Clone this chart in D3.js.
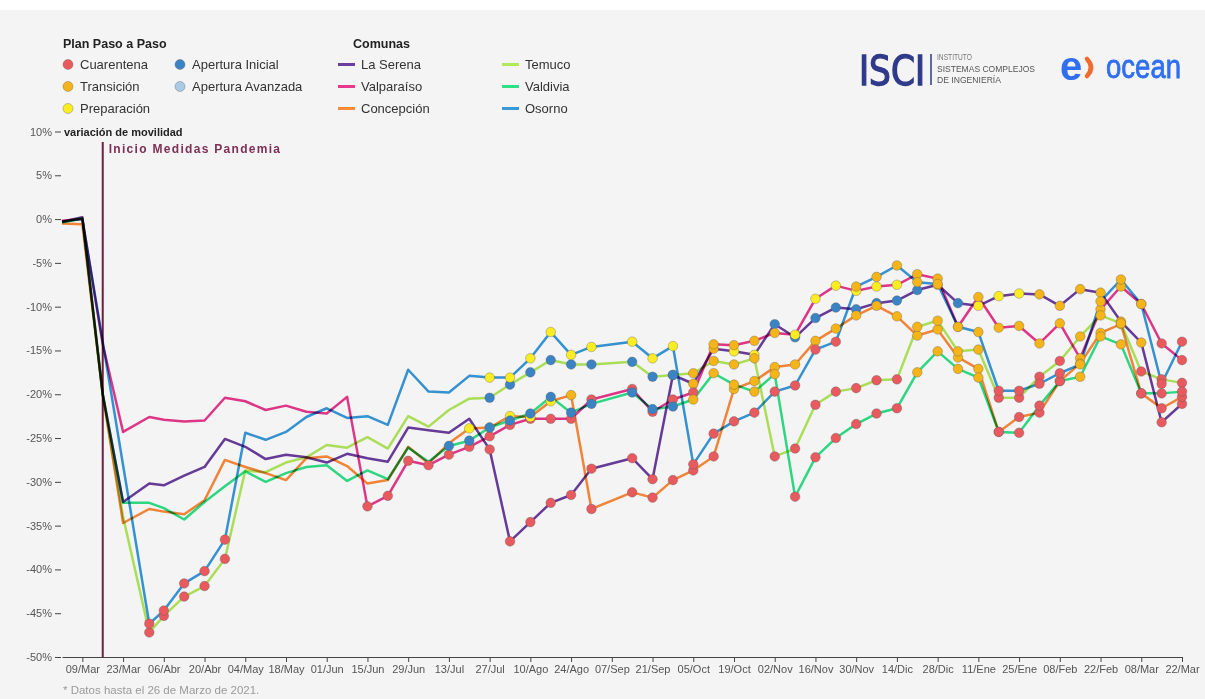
<!DOCTYPE html>
<html>
<head>
<meta charset="utf-8">
<script src="https://cdn.jsdelivr.net/npm/d3@7"></script>
<style>
  body { margin: 0; background: #fff; font-family: "Liberation Sans", Arial, sans-serif; }
  svg { display: block; }
</style>
</head>
<body>
<svg id="chart" width="1205" height="699"></svg>
<script>
// fechas semanales (falta la semana del 07/Sep)
const fechas = [
  '2020-03-02','2020-03-09','2020-03-16','2020-03-23','2020-04-01','2020-04-06','2020-04-13','2020-04-20','2020-04-27','2020-05-04',
  '2020-05-11','2020-05-18','2020-05-25','2020-06-01','2020-06-08','2020-06-15','2020-06-22','2020-06-29','2020-07-06','2020-07-13',
  '2020-07-20','2020-07-27','2020-08-03','2020-08-10','2020-08-17','2020-08-24','2020-08-31','2020-09-14','2020-09-21','2020-09-28',
  '2020-10-05','2020-10-12','2020-10-19','2020-10-26','2020-11-02','2020-11-09','2020-11-16','2020-11-23','2020-11-30','2020-12-07',
  '2020-12-14','2020-12-21','2020-12-28','2021-01-04','2021-01-11','2021-01-18','2021-01-25','2021-02-01','2021-02-08','2021-02-15',
  '2021-02-22','2021-03-01','2021-03-08','2021-03-15','2021-03-22'
];

// variación de movilidad (%)
const laSerena = [
  -0.3, 0.2, -20.0, -32.3, -30.2, -30.4, -29.3, -28.3, -25.1, -26.0,
  -27.4, -26.9, -27.2, -27.8, -26.8, -27.3, -27.7, -23.8, -24.1, -24.4,
  -22.8, -26.3, -36.8, -34.6, -32.4, -31.5, -28.5, -27.3, -29.7, -17.8,
  -18.8, -14.8, -15.1, -15.5, -12.0, -13.5, -11.3, -10.1, -10.3, -9.6,
  -9.3, -8.1, -7.5, -9.6, -9.9, -8.8, -8.5, -8.6, -9.9, -8.0,
  -8.4, -11.7, -14.1, -23.2, -21.1
];
const valparaiso = [
  -0.2, 0.0, -14.3, -24.3, -22.6, -22.9, -23.1, -23.0, -20.4, -20.8,
  -21.8, -21.3, -22.0, -22.2, -20.3, -32.8, -31.6, -27.6, -28.1, -26.9,
  -26.0, -24.8, -23.5, -22.8, -22.8, -22.8, -20.6, -19.4, -22.0, -20.6,
  -19.8, -14.3, -14.4, -13.9, -13.0, -13.2, -9.1, -7.6, -8.2, -7.7,
  -7.5, -6.3, -6.8, -12.3, -8.9, -12.4, -12.2, -14.2, -11.9, -15.9,
  -10.3, -7.7, -9.7, -14.2, -16.1
];
const concepcion = [
  -0.5, -0.6, -20.0, -34.7, -33.1, -33.4, -33.7, -32.1, -27.5, -28.3,
  -29.0, -29.8, -27.3, -27.1, -28.2, -30.2, -29.8, -26.0, -27.9, -25.6,
  -23.9, -23.8, -22.5, -22.6, -20.8, -20.1, -33.1, -31.2, -31.8, -29.8,
  -28.7, -27.1, -19.4, -18.5, -16.9, -16.6, -13.9, -12.5, -11.0, -9.9,
  -11.1, -13.3, -12.6, -15.8, -17.1, -24.3, -22.6, -22.1, -18.5, -16.5,
  -13.0, -12.0, -19.9, -21.6, -20.3
];
const temuco = [
  -0.3, 0.1, -20.0, -34.0, -47.2, -45.3, -43.1, -41.9, -38.8, -28.7,
  -28.9, -27.8, -27.2, -25.8, -26.1, -24.9, -26.2, -22.5, -23.7, -21.8,
  -20.5, -20.4, -18.9, -17.5, -16.1, -16.6, -16.6, -16.3, -18.0, -17.8,
  -17.6, -16.2, -16.6, -15.9, -27.1, -26.2, -21.2, -19.7, -19.3, -18.4,
  -18.3, -12.3, -11.6, -15.1, -14.9, -20.4, -20.4, -18.0, -16.2, -13.4,
  -11.0, -11.9, -17.4, -18.3, -18.7
];
const valdivia = [
  -0.4, 0.1, -20.0, -32.4, -32.4, -33.0, -34.3, -32.3, -30.5, -28.8,
  -30.0, -29.0, -28.3, -28.1, -29.9, -28.7, -29.7, -26.1, -27.7, -25.9,
  -25.3, -23.8, -23.0, -22.2, -20.3, -22.1, -21.1, -19.8, -21.7, -21.4,
  -20.6, -17.6, -18.9, -19.7, -17.7, -31.7, -27.2, -25.0, -23.4, -22.2,
  -21.6, -17.5, -15.1, -17.1, -18.1, -24.3, -24.4, -21.3, -18.5, -18.0,
  -13.4, -14.3, -19.9, -19.9, -19.7
];
const osorno = [
  -0.3, 0.0, -14.0, -28.1, -46.2, -44.7, -41.6, -40.2, -36.6, -24.4,
  -25.2, -24.3, -22.6, -21.6, -22.7, -22.5, -23.5, -17.2, -19.7, -19.8,
  -17.9, -18.1, -18.1, -15.9, -12.9, -15.5, -14.6, -14.0, -15.9, -14.5,
  -28.0, -24.5, -23.1, -22.1, -19.7, -19.0, -14.9, -14.0, -7.7, -6.6,
  -5.3, -7.2, -7.4, -12.3, -12.9, -19.6, -19.6, -18.8, -17.6, -16.6,
  -9.4, -6.9, -9.7, -18.8, -14.0
];

// fase del Plan Paso a Paso en cada fecha (C cuarentena, T transición, P preparación, I apertura inicial, A apertura avanzada)
const laSerenaFase = [
  '-','-','-','-','-','-','-','-','-','-',
  '-','-','-','-','-','-','-','-','-','-',
  '-','C','C','C','C','C','C','C','C','I',
  'T','T','P','P','I','I','I','I','I','I',
  'I','I','T','I','P','P','P','T','T','T',
  'T','T','T','C','C'
];
const valparaisoFase = [
  '-','-','-','-','-','-','-','-','-','-',
  '-','-','-','-','-','C','C','C','C','C',
  'C','C','C','C','C','C','C','C','C','C',
  'C','T','T','T','T','P','P','P','P','P',
  'P','T','T','T','T','T','T','T','T','T',
  'T','T','T','C','C'
];
const concepcionFase = [
  '-','-','-','-','-','-','-','-','-','-',
  '-','-','-','-','-','-','-','-','-','-',
  'P','P','P','P','P','T','C','C','C','C',
  'C','C','T','T','T','T','T','T','T','T',
  'T','T','T','T','T','C','C','C','C','T',
  'T','T','C','C','C'
];
const temucoFase = [
  '-','-','-','-','C','C','C','C','C','-',
  '-','-','-','-','-','-','-','-','-','-',
  '-','I','I','I','I','I','I','I','I','I',
  'T','T','T','T','C','C','C','C','C','C',
  'C','T','T','T','T','C','C','C','C','T',
  'T','T','C','C','C'
];
const valdiviaFase = [
  '-','-','-','-','-','-','-','-','-','-',
  '-','-','-','-','-','-','-','-','-','I',
  'I','I','I','I','I','I','I','I','I','I',
  'T','T','T','T','T','C','C','C','C','C',
  'C','T','T','T','T','C','C','C','C','T',
  'T','T','C','C','C'
];
const osornoFase = [
  '-','-','-','-','C','C','C','C','C','-',
  '-','-','-','-','-','-','-','-','-','-',
  '-','P','P','P','P','P','P','P','P','P',
  'C','C','C','C','C','C','C','C','T','T',
  'T','T','T','T','T','C','C','C','C','T',
  'T','T','T','C','C'
];

const comunas = ['La Serena', 'Valparaíso', 'Concepción', 'Temuco', 'Valdivia', 'Osorno'];
const fases = ['C', 'T', 'P', 'I', 'A'];
const faseNombres = ['Cuarentena', 'Transición', 'Preparación', 'Apertura Inicial', 'Apertura Avanzada'];

const tickFechas = [
  '2020-03-09','2020-03-23','2020-04-06','2020-04-20','2020-05-04','2020-05-18','2020-06-01','2020-06-15','2020-06-29','2020-07-13',
  '2020-07-27','2020-08-10','2020-08-24','2020-09-07','2020-09-21','2020-10-05','2020-10-19','2020-11-02','2020-11-16','2020-11-30',
  '2020-12-14','2020-12-28','2021-01-11','2021-01-25','2021-02-08','2021-02-22','2021-03-08','2021-03-22'
];
const tickEtiquetas = [
  '09/Mar','23/Mar','06/Abr','20/Abr','04/May','18/May','01/Jun','15/Jun','29/Jun','13/Jul',
  '27/Jul','10/Ago','24/Ago','07/Sep','21/Sep','05/Oct','19/Oct','02/Nov','16/Nov','30/Nov',
  '14/Dic','28/Dic','11/Ene','25/Ene','08/Feb','22/Feb','08/Mar','22/Mar'
];
const yTicks = [-50, -45, -40, -35, -30, -25, -20, -15, -10, -5, 0, 5, 10];
const inicioMedidas = '2020-03-16';

// estilos
const lineColors = ['#6a3d9e', '#e8388c', '#fb8a3a', '#b3e85c', '#30e087', '#3798da'];
const faseColors = {C: '#e85a5e', T: '#f5b417', P: '#fcec22', I: '#3a84c6', A: '#a9cbe8'};

const parse = d3.timeParse('%Y-%m-%d');
const series = comunas.map((name, i) => ({
    name,
    color: lineColors[i],
    points: [laSerena, valparaiso, concepcion, temuco, valdivia, osorno][i].map((v, j) => ({
        date: parse(fechas[j]),
        value: v,
        fase: [laSerenaFase, valparaisoFase, concepcionFase, temucoFase, valdiviaFase, osornoFase][i][j]
    }))
}));

const svg = d3.select('#chart');
const font = '"Liberation Sans", Arial, sans-serif';

svg.append('rect')
    .attr('x', 0).attr('y', 10)
    .attr('width', 1205).attr('height', 689)
    .attr('fill', '#f4f4f4');

const x = d3.scaleTime()
            .domain([parse('2020-03-02'), parse('2021-03-22')])
            .range([62, 1182]);

const y = d3.scaleLinear()
            .domain([-50, 10])
            .range([657, 131.5]);

// eje x
const xAxis = svg.append('g')
    .attr('transform', 'translate(0,657)')
    .call(d3.axisBottom(x)
        .tickValues(tickFechas.map(parse))
        .tickFormat((d, i) => tickEtiquetas[i])
        .tickSize(5)
        .tickSizeOuter(0));
xAxis.select('.domain').attr('stroke', '#444').attr('stroke-width', 1.2);
xAxis.selectAll('.tick line').attr('stroke', '#444');
xAxis.selectAll('.tick text')
    .attr('fill', '#555')
    .style('font-size', '11px')
    .style('font-family', font);

// eje y
const yAxis = svg.append('g')
    .attr('transform', 'translate(61,0)')
    .call(d3.axisLeft(y)
        .tickValues(yTicks)
        .tickFormat(d => d + '%')
        .tickSize(6));
yAxis.select('.domain').remove();
yAxis.selectAll('.tick line').attr('stroke', '#444');
yAxis.selectAll('.tick text')
    .attr('fill', '#555')
    .style('font-size', '11px')
    .style('font-family', font);

svg.append('text')
    .attr('x', 64)
    .attr('y', y(10) + 4)
    .text('variación de movilidad')
    .style('font-family', font)
    .style('font-size', '11px')
    .style('font-weight', 'bold')
    .attr('fill', '#222');

// inicio medidas pandemia
svg.append('line')
    .attr('x1', x(parse(inicioMedidas))).attr('x2', x(parse(inicioMedidas)))
    .attr('y1', 142).attr('y2', 657)
    .attr('stroke', '#6b1f3d')
    .attr('stroke-width', 2);

svg.append('text')
    .attr('x', x(parse(inicioMedidas)) + 6)
    .attr('y', 153)
    .text('Inicio Medidas Pandemia')
    .style('font-family', font)
    .style('font-size', '12px')
    .style('font-weight', 'bold')
    .style('letter-spacing', '1.3px')
    .attr('fill', '#7d2f55');

// líneas
const line = d3.line()
    .x(d => x(d.date))
    .y(d => y(d.value));

svg.append('g')
    .selectAll('path')
    .data(series)
    .enter().append('path')
    .attr('d', d => line(d.points))
    .attr('fill', 'none')
    .attr('stroke', d => d.color)
    .attr('stroke-width', 2.5)
    .attr('stroke-linejoin', 'round')
    .style('mix-blend-mode', 'multiply');

// puntos de fase
svg.append('g')
    .selectAll('circle')
    .data(series.flatMap(s => s.points.filter(p => p.fase !== '-')))
    .enter().append('circle')
    .attr('cx', d => x(d.date))
    .attr('cy', d => y(d.value))
    .attr('r', 4.8)
    .attr('fill', d => faseColors[d.fase])
    .attr('stroke', 'rgba(90,90,90,0.45)')
    .attr('stroke-width', 0.8);

// leyenda plan paso a paso
const legend = svg.append('g').style('font-family', font);

legend.append('text')
    .attr('x', 63).attr('y', 48)
    .text('Plan Paso a Paso')
    .style('font-size', '12.5px')
    .style('font-weight', 'bold')
    .attr('fill', '#222');

const faseItems = legend.selectAll('.fase-item')
    .data(fases)
    .enter().append('g')
    .attr('class', 'fase-item')
    .attr('transform', (d, i) => i < 3
        ? `translate(68,${64.5 + i * 22})`
        : `translate(180,${64.5 + (i - 3) * 22})`);

faseItems.append('circle')
    .attr('r', 5)
    .attr('fill', d => faseColors[d])
    .attr('stroke', 'rgba(90,90,90,0.45)')
    .attr('stroke-width', 0.8);

faseItems.append('text')
    .attr('x', 12).attr('y', 4.5)
    .text((d, i) => faseNombres[i])
    .style('font-size', '13px')
    .attr('fill', '#333');

// leyenda comunas
legend.append('text')
    .attr('x', 353).attr('y', 48)
    .text('Comunas')
    .style('font-size', '12.5px')
    .style('font-weight', 'bold')
    .attr('fill', '#222');

const comunaItems = legend.selectAll('.comuna-item')
    .data(series)
    .enter().append('g')
    .attr('class', 'comuna-item')
    .attr('transform', (d, i) => i < 3
        ? `translate(338,${64.5 + i * 22})`
        : `translate(502,${64.5 + (i - 3) * 22})`);

comunaItems.append('line')
    .attr('x1', 0).attr('x2', 17)
    .attr('stroke', d => d.color)
    .attr('stroke-width', 3);

comunaItems.append('text')
    .attr('x', 23).attr('y', 4.5)
    .text(d => d.name)
    .style('font-size', '13px')
    .attr('fill', '#333');

// logos
const logos = svg.append('g').style('font-family', font);

logos.append('text')
    .attr('x', 859).attr('y', 85)
    .text('ISCI')
    .attr('textLength', 66)
    .attr('lengthAdjust', 'spacingAndGlyphs')
    .style('font-family', '"DejaVu Sans Condensed", "DejaVu Sans", sans-serif')
    .style('font-size', '40px')
    .attr('fill', '#2f3a8a')
    .attr('stroke', '#2f3a8a')
    .attr('stroke-width', 1.3);

logos.append('line')
    .attr('x1', 931).attr('x2', 931)
    .attr('y1', 54).attr('y2', 85)
    .attr('stroke', '#2f3a8a')
    .attr('stroke-width', 1.5);

logos.selectAll('.isci-sub')
    .data(['INSTITUTO', 'SISTEMAS COMPLEJOS', 'DE INGENIERÍA'])
    .enter().append('text')
    .attr('class', 'isci-sub')
    .attr('x', 937)
    .attr('y', (d, i) => 60 + i * 11.5)
    .text(d => d)
    .attr('textLength', (d, i) => [35, 98, 64][i])
    .attr('lengthAdjust', 'spacingAndGlyphs')
    .style('font-size', '8.5px')
    .attr('fill', (d, i) => i === 0 ? '#777' : '#555');

logos.append('text')
    .attr('x', 1060).attr('y', 80)
    .text('e')
    .style('font-size', '40px')
    .style('font-weight', 'bold')
    .attr('fill', '#2f6ff0');

logos.append('path')
    .attr('d', 'M1087,59 Q1095,67.5 1087,76')
    .attr('fill', 'none')
    .attr('stroke', '#f26b2e')
    .attr('stroke-width', 4.5)
    .attr('stroke-linecap', 'round');

logos.append('text')
    .attr('x', 1106).attr('y', 78)
    .text('ocean')
    .attr('textLength', 75)
    .attr('lengthAdjust', 'spacingAndGlyphs')
    .style('font-size', '33px')
    .attr('fill', '#2f6ff0')
    .attr('stroke', '#2f6ff0')
    .attr('stroke-width', 0.8);

// nota
svg.append('text')
    .attr('x', 63).attr('y', 694)
    .text('* Datos hasta el 26 de Marzo de 2021.')
    .style('font-family', font)
    .style('font-size', '11.5px')
    .attr('fill', '#9a9a9a');
</script>
</body>
</html>
